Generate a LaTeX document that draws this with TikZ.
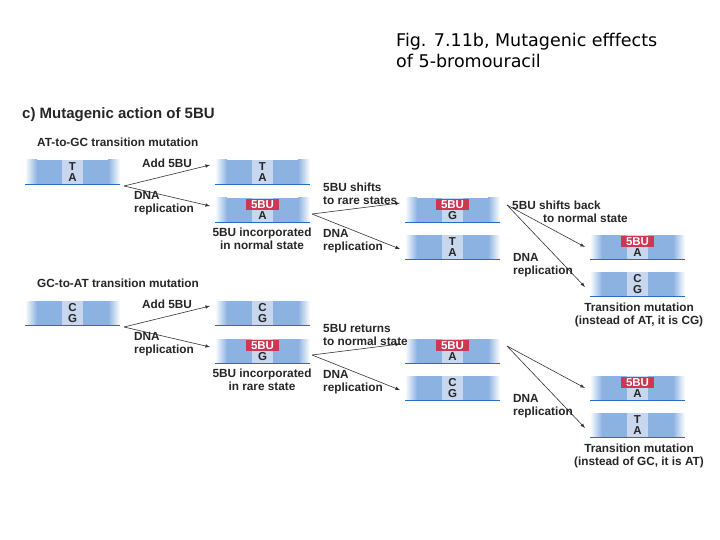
\documentclass[tikz,border=0pt]{standalone}
\usepackage{fontspec}
\setmainfont{Liberation Sans}
\newfontfamily\titlefont{DejaVu Sans}
\begin{document}
\begin{tikzpicture}[x=1pt,y=-1pt,
  lbl/.style={font=\bfseries\fontsize{11.8}{12.5}\selectfont,align=center,text=black!85,inner sep=0pt},
  base/.style={font=\bfseries\fontsize{11.5}{11}\selectfont,text=black!85,inner sep=0pt},
  arr/.style={-latex,black!80,line width=0.6pt}]
\definecolor{dnab}{RGB}{140,178,225}
\definecolor{dnal}{RGB}{200,215,238}
\definecolor{dnad}{RGB}{40,110,190}
\definecolor{bured}{RGB}{205,55,85}
\useasboundingbox (0,0) rectangle (720,540);
\newcommand{\dnaseg}[6]{%
  \fill[dnab] (#2+12,#3) rectangle (#2+83,#3+24);
  \shade[left color=white,right color=dnab] (#2,#3) rectangle (#2+12,#3+24);
  \shade[left color=dnab,right color=white] (#2+83,#3) rectangle (#2+95,#3+24);
  \fill[dnal] (#2+37,#3) rectangle (#2+58,#3+24);
  \draw[dnad,line width=0.8pt] (#2,#3+24) -- (#2+95,#3+24);
  \ifnum#6=1 \fill[bured] (#2+31,#3+1) rectangle (#2+64,#3+12);
    \node[base,text=white] (#1t) at (#2+47.5,#3+6.5) {#4};
  \else \node[base] (#1t) at (#2+47.5,#3+7) {#4};\fi
  \node[base] (#1b) at (#2+47.5,#3+18) {#5};
  \coordinate (#1L) at (#2,#3+12);
}
\newcommand{\arrows}[2]{%
  \coordinate (#1s1) at (124,186+#2);
  \coordinate (#1s2) at (312,214+#2);
  \coordinate (#1s3) at (507,205+#2);
  \draw[arr] (#1s1) -- ([xshift=-5pt,yshift=7pt]#12L);
  \draw[arr] (#1s1) -- ([xshift=-5pt,yshift=4pt]#13L);
  \draw[arr] (#1s2) -- ([xshift=-5pt,yshift=7pt]#14L);
  \draw[arr] (#1s2) -- ([xshift=-5pt,yshift=-2pt]#15L);
  \draw[arr] (#1s3) -- ([xshift=-5pt]#16L);
  \draw[arr] (#1s3) -- ([xshift=-5pt,yshift=-3pt]#17L);
  \node[lbl] (add#1) at (167,163+#2) {Add 5BU};
  \node[lbl,align=left,anchor=west] (rep1#1) at (134,203+#2) {DNA\\replication};
  \node[lbl,align=left,anchor=west] (rep2#1) at (323,241+#2) {DNA\\replication};
  \node[lbl,align=left,anchor=west] (rep3#1) at (513,265+#2) {DNA\\replication};
}
\node[font=\titlefont\fontsize{17.5}{21}\selectfont,align=left,anchor=north west,inner sep=0pt] (title) at (396,33) {Fig. 7.11b, Mutagenic efffects\\of 5-bromouracil};
\node[lbl,anchor=west,font=\bfseries\fontsize{15}{15}\selectfont] (c) at (22,115) {c) Mutagenic action of 5BU};
% upper
\node[lbl,anchor=west] (hu) at (37,142) {AT-to-GC transition mutation};
\dnaseg{u1}{25}{160}{T}{A}{0}
\dnaseg{u2}{215}{160}{T}{A}{0}
\dnaseg{u3}{215}{198}{5BU}{A}{1}
\dnaseg{u4}{405}{198}{5BU}{G}{1}
\dnaseg{u5}{405}{235}{T}{A}{0}
\dnaseg{u6}{590}{235}{5BU}{A}{1}
\dnaseg{u7}{590}{272}{C}{G}{0}
\arrows{u}{0}
\node[lbl] (capu) at (262,239) {5BU incorporated\\in normal state};
\node[lbl,align=left,anchor=west] (shu) at (323,194) {5BU shifts\\to rare states};
\node[lbl,align=left,anchor=west] (sbu) at (512,212) {5BU shifts back\\\hspace*{31pt}to normal state};
\node[lbl] (resu) at (639,315) {Transition mutation\\(instead of AT, it is CG)};
% lower
\node[lbl,anchor=west] (hd) at (37,283) {GC-to-AT transition mutation};
\dnaseg{d1}{25}{301}{C}{G}{0}
\dnaseg{d2}{215}{301}{C}{G}{0}
\dnaseg{d3}{215}{339}{5BU}{G}{1}
\dnaseg{d4}{405}{339}{5BU}{A}{1}
\dnaseg{d5}{405}{376}{C}{G}{0}
\dnaseg{d6}{590}{376}{5BU}{A}{1}
\dnaseg{d7}{590}{413}{T}{A}{0}
\arrows{d}{141}
\node[lbl] (capd) at (262,380) {5BU incorporated\\in rare state};
\node[lbl,align=left,anchor=west] (shd) at (323,335) {5BU returns\\to normal state};
\node[lbl] (resd) at (639,456) {Transition mutation\\(instead of GC, it is AT)};
\end{tikzpicture}
\end{document}
